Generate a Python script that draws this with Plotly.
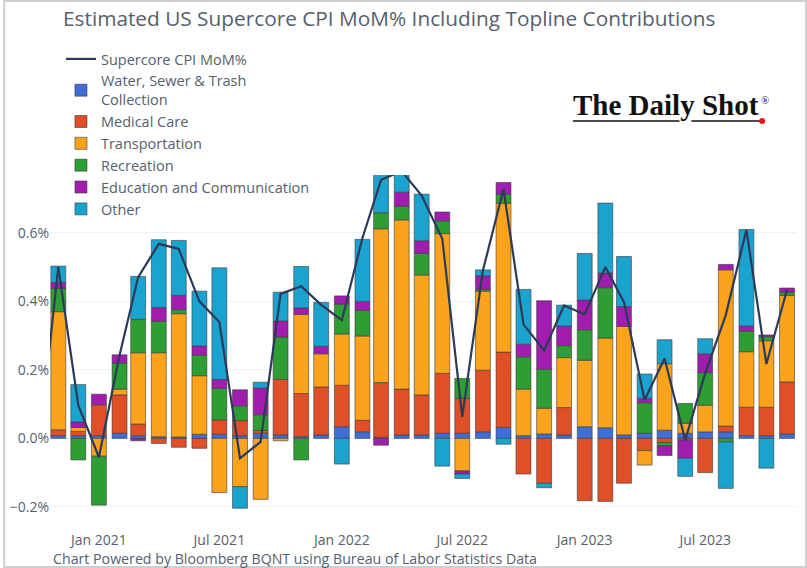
import plotly.graph_objects as go

# ---------------- data ----------------
months = ["2020-10-01", "2020-11-01", "2020-12-01",
          "2021-01-01", "2021-02-01", "2021-03-01", "2021-04-01", "2021-05-01", "2021-06-01",
          "2021-07-01", "2021-08-01", "2021-09-01", "2021-10-01", "2021-11-01", "2021-12-01",
          "2022-01-01", "2022-02-01", "2022-03-01", "2022-04-01", "2022-05-01", "2022-06-01",
          "2022-07-01", "2022-08-01", "2022-09-01", "2022-10-01", "2022-11-01", "2022-12-01",
          "2023-01-01", "2023-02-01", "2023-03-01", "2023-04-01", "2023-05-01", "2023-06-01",
          "2023-07-01", "2023-08-01", "2023-09-01", "2023-10-01", "2023-11-01"]

supercore = [-0.055, 0.50, 0.097,
             -0.055, 0.243, 0.471, 0.568, 0.553, 0.40,
             0.34, -0.058, -0.01, 0.422, 0.444, 0.39,
             0.345, 0.585, 0.755, 0.78, 0.709, 0.583,
             0.063, 0.49, 0.728, 0.333, 0.257, 0.388,
             0.362, 0.50, 0.398, 0.112, 0.233, -0.005,
             0.19, 0.36, 0.609, 0.217, 0.434]

water = [None, 0.008, 0.008,
         0.008, 0.015, 0.008, 0.005, 0.004, 0.012,
         0.012, 0.008, 0.015, 0.010, 0.005, 0.010,
         0.034, 0.019, 0.003, 0.010, 0.010, 0.015,
         0.015, 0.019, 0.032, 0.008, 0.013, 0.010,
         0.034, 0.031, 0.010, 0.015, 0.024, 0.015,
         0.019, 0.019, 0.008, 0.008, 0.013]

medical = [None, 0.017, 0.012,
           0.090, 0.112, 0.034, -0.015, -0.026, -0.029,
           0.042, 0.044, 0.008, 0.162, 0.126, 0.140,
           0.121, 0.034, 0.160, 0.134, 0.117, 0.175,
           0.102, 0.180, 0.220, -0.104, -0.131, 0.080,
           -0.182, -0.184, -0.131, -0.036, -0.012, -0.005,
           -0.100, 0.017, 0.083, 0.083, 0.152]

transport = [None, 0.345, 0.012,
             -0.052, 0.017, 0.208, 0.245, 0.360, 0.171,
             -0.158, -0.141, -0.178, -0.007, 0.231, 0.097,
             0.150, 0.246, 0.449, 0.494, 0.350, 0.408,
             -0.095, 0.231, 0.435, 0.136, 0.075, 0.146,
             0.194, 0.262, 0.317, -0.042, 0.194, 0.029,
             0.078, 0.456, 0.162, 0.194, 0.252]

recreation = [None, 0.068, -0.063,
              -0.143, 0.076, 0.098, 0.092, 0.012, 0.060,
              0.092, 0.043, 0.046, 0.124, -0.063, None,
              0.087, 0.075, 0.047, 0.040, 0.063, 0.037,
              0.058, 0.005, 0.026, 0.094, 0.114, 0.035,
              0.089, 0.147, None, 0.089, -0.010, 0.058,
              0.095, -0.010, 0.060, 0.012, 0.010]

education = [None, 0.017, 0.016,
             0.031, 0.024, -0.007, 0.040, 0.042, 0.027,
             0.026, 0.047, 0.078, 0.047, 0.019, 0.022,
             0.024, 0.026, -0.020, 0.041, 0.037, 0.026,
             -0.009, 0.040, 0.034, 0.037, 0.200, 0.057,
             0.087, 0.043, 0.058, 0.013, -0.028, -0.053,
             0.055, 0.016, 0.015, 0.005, 0.012]

other = [None, 0.048, 0.109,
         None, None, 0.125, 0.198, 0.160, 0.160,
         0.326, -0.063, 0.017, 0.084, 0.121, 0.128,
         -0.075, 0.181, 0.116, 0.061, 0.136, -0.081,
         -0.013, 0.017, -0.017, 0.160, -0.013, 0.061,
         0.136, 0.204, 0.146, 0.071, 0.070, -0.053,
         0.044, -0.136, 0.282, -0.087, None]

series_names = ["Water, Sewer & Trash<br>Collection", "Medical Care", "Transportation",
                "Recreation", "Education and Communication", "Other"]
series_values = [water, medical, transport, recreation, education, other]
series_colors = ["#3F6FD6", "#E04F27", "#FCA31C", "#2E9D33", "#A01DB0", "#1AA3CF"]

y_tickvals = [-0.2, 0.0, 0.2, 0.4, 0.6]
y_ticktext = ["\u22120.2%", "0.0%", "0.2%", "0.4%", "0.6%"]

# ---------------- layout geometry ----------------
W, H = 807, 568
L, R, T, B = 47, 10, 175, 38
PW, PH = W - L - R, H - T - B


def px_x(x):
    return (x - L) / PW


def px_y(y):
    return (H - B - y) / PH


fig = go.Figure()

fig.add_trace(go.Scatter(
    x=months, y=supercore, mode="lines", name="Supercore CPI MoM%",
    line=dict(color="#2C3A58", width=2.2)))

for name, vals, col in zip(series_names, series_values, series_colors):
    fig.add_trace(go.Bar(
        x=months, y=vals, name=name,
        marker=dict(color=col, line=dict(color="rgba(60,60,60,0.6)", width=1))))

font_col = "#56606E"

fig.update_layout(
    width=W, height=H,
    margin=dict(l=L, r=R, t=T, b=B),
    barmode="relative",
    bargap=0.2,
    paper_bgcolor="white",
    plot_bgcolor="white",
    font=dict(family="Open Sans", size=14, color=font_col),
    title=dict(text="Estimated US Supercore CPI MoM% Including Topline Contributions",
               x=63 / W, xanchor="left", xref="container",
               y=(H - 19) / H, yanchor="middle", yref="container",
               font=dict(size=20.8, color=font_col)),
    legend=dict(x=px_x(58), xanchor="left", y=px_y(43), yanchor="top",
                traceorder="normal", bgcolor="rgba(0,0,0,0)",
                font=dict(size=14.5, color=font_col)),
    xaxis=dict(type="date", range=["2020-10-19 12:00", "2023-11-16"],
               tick0="2021-01-01", dtick="M6", tickformat="%b %Y",
               showgrid=False, zeroline=False, showline=False, ticks="",
               tickfont=dict(size=14, color=font_col)),
    yaxis=dict(range=[0.769 - PH / 342.5, 0.769], tickmode="array",
               tickvals=y_tickvals, ticktext=y_ticktext,
               gridcolor="#EDF1F8", gridwidth=1,
               zeroline=False, showline=False, ticks="",
               tickfont=dict(size=14, color=font_col)),
    showlegend=True,
)

# footnote
fig.add_annotation(text="Chart Powered by Bloomberg BQNT using Bureau of Labor Statistics Data",
                   xref="paper", yref="paper", x=px_x(48), y=px_y(558.5),
                   xanchor="left", yanchor="middle", showarrow=False,
                   font=dict(size=14.2, color=font_col))

# The Daily Shot logo
fig.add_annotation(text="<b>The Daily Shot</b>", xref="paper", yref="paper",
                   x=px_x(665), y=px_y(105), xanchor="center", yanchor="middle",
                   showarrow=False, font=dict(family="Liberation Serif", size=29, color="#111111"))
fig.add_annotation(text="®", xref="paper", yref="paper",
                   x=px_x(765), y=px_y(100), xanchor="center", yanchor="middle",
                   showarrow=False, font=dict(family="Liberation Serif", size=11, color="#111111"))
fig.add_shape(type="line", xref="paper", yref="paper",
              x0=px_x(572), x1=px_x(679), y0=px_y(121), y1=px_y(121),
              line=dict(color="#111111", width=1.5))
fig.add_shape(type="line", xref="paper", yref="paper",
              x0=px_x(691), x1=px_x(760), y0=px_y(121), y1=px_y(121),
              line=dict(color="#111111", width=1.5))
fig.add_shape(type="circle", xref="paper", yref="paper",
              x0=px_x(759), x1=px_x(765), y0=px_y(124), y1=px_y(118),
              fillcolor="#E8161B", line=dict(color="#E8161B", width=0))

# image border
fig.add_shape(type="rect", xref="paper", yref="paper",
              x0=px_x(1), x1=px_x(806), y0=px_y(567), y1=px_y(1),
              line=dict(color="#CFCFCF", width=2), layer="below")

fig.write_html("out.html")
